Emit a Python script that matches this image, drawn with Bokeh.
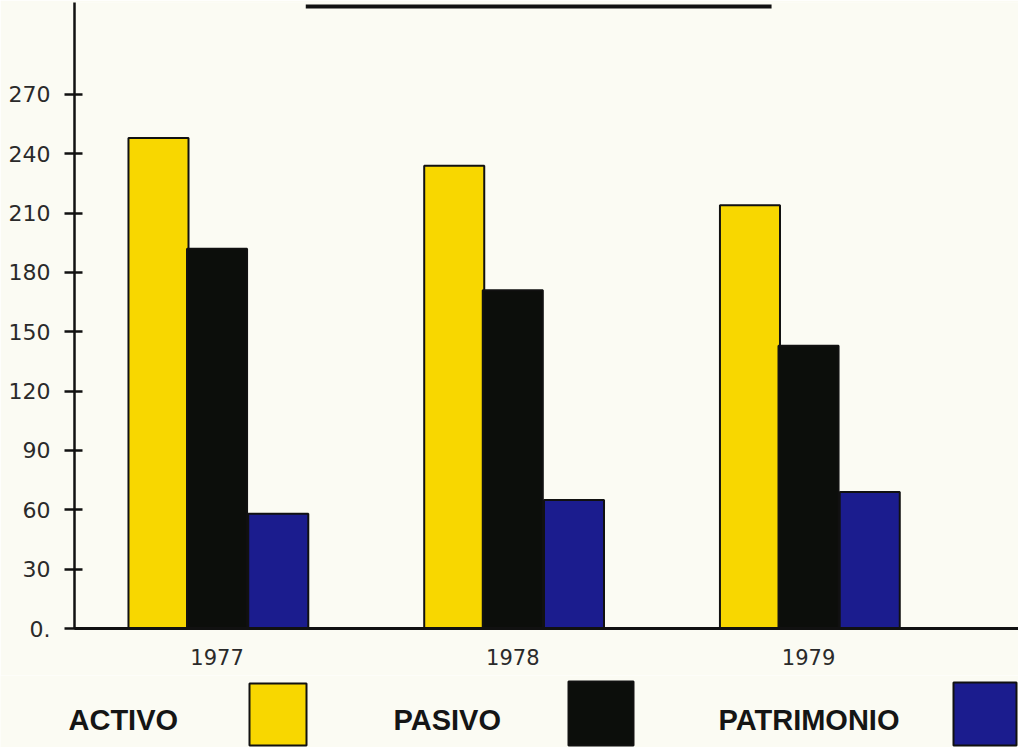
from bokeh.plotting import figure
from bokeh.models import Range1d, FixedTicker
from bokeh.layouts import column, row
from bokeh.core.properties import value
from bokeh.embed import file_html
from bokeh.resources import INLINE

# ---- data ----
years = [1977, 1978, 1979]
activo = [248, 234, 214]
pasivo = [192, 171, 143]
patrimonio = [58, 65, 69]
y_ticks = [0, 30, 60, 90, 120, 150, 180, 210, 240, 270]
y_tick_labels = ["0.", "30", "60", "90", "120", "150", "180", "210", "240", "270"]
x_tick_labels = ["1977", "1978", "1979"]
legend_labels = ["ACTIVO", "PASIVO", "PATRIMONIO"]

# ---- styles ----
BG = "#FBFBF3"
YELLOW = "#F8D700"
BLACK = "#0C0E0B"
BLUE = "#1B1C8E"
colors = [YELLOW, BLACK, BLUE]
series = [activo, pasivo, patrimonio]
offsets = [-0.198, 0.0, 0.207]
bar_w = 0.203

W = 1018
p = figure(width=W, height=675, output_backend="svg", toolbar_location=None,
           x_range=Range1d(1976.518, 1979.710), y_range=Range1d(0, 316.5),
           min_border_left=74, min_border_right=0, min_border_top=2, min_border_bottom=47,
           background_fill_color=BG, border_fill_color=BG, outline_line_color=None)
p.grid.visible = False

for vals, col, off in zip(series, colors, offsets):
    p.vbar(x=[yr + off for yr in years], top=vals, bottom=0, width=bar_w,
           fill_color=col, line_color="#111111", line_width=2)

# title underline (decoration)
p.segment(x0=[1977.30], y0=[314.5], x1=[1978.875], y1=[314.5], line_color="#111111", line_width=4)

# y axis
p.yaxis.ticker = FixedTicker(ticks=y_ticks)
p.yaxis.major_label_overrides = {t: l for t, l in zip(y_ticks, y_tick_labels)}
p.yaxis.axis_line_width = 2.5
p.yaxis.axis_line_color = "#111111"
p.yaxis.major_tick_in = 8
p.yaxis.major_tick_out = 10
p.yaxis.major_tick_line_width = 2.5
p.yaxis.major_tick_line_color = "#111111"
p.yaxis.minor_tick_line_color = None
p.yaxis.major_label_standoff = 14
p.yaxis.major_label_text_font = "DejaVu Sans"
p.yaxis.major_label_text_font_size = "22px"
p.yaxis.major_label_text_color = "#2a2a2a"

# x axis
p.xaxis.ticker = FixedTicker(ticks=years)
p.xaxis.major_label_overrides = {yr: l for yr, l in zip(years, x_tick_labels)}
p.xaxis.axis_line_width = 3
p.xaxis.axis_line_color = "#111111"
p.xaxis.major_tick_line_color = None
p.xaxis.minor_tick_line_color = None
p.xaxis.major_label_standoff = 14
p.xaxis.major_label_text_font = "DejaVu Sans"
p.xaxis.major_label_text_font_size = "21px"
p.xaxis.major_label_text_color = "#2a2a2a"

# ---- legend strip ----
lg = figure(width=W, height=72, output_backend="svg", toolbar_location=None,
            x_range=Range1d(0, W), y_range=Range1d(0, 72),
            x_axis_location=None, y_axis_location=None,
            min_border=0, min_border_left=0, min_border_right=0,
            min_border_top=0, min_border_bottom=0,
            background_fill_color=BG, border_fill_color=BG, outline_line_color=None)
lg.grid.visible = False

text_x = [68, 393, 718]
box_left = [249, 568, 953]
box_right = [306, 633, 1016]
lg.text(x=text_x, y=[28, 28, 28], text=legend_labels,
        text_font=value("Liberation Sans"), text_font_style="bold",
        text_font_size="29px", text_color="#151515",
        text_baseline="middle", text_align="left")
lg.quad(left=box_left, right=box_right,
        bottom=[2, 2, 2], top=[64, 66, 65],
        fill_color=colors, line_color="#111111", line_width=2)

layout = column(row(p), row(lg), spacing=0)
open("out.html", "w").write(file_html(layout, INLINE))
